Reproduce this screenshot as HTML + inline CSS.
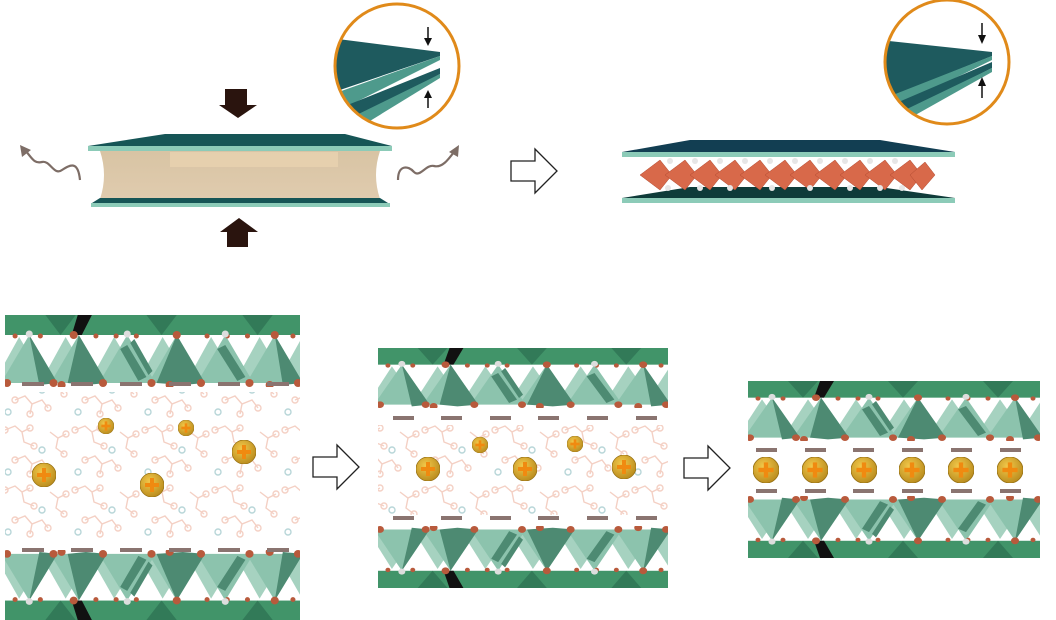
<!DOCTYPE html>
<html><head><meta charset="utf-8"><style>html,body{margin:0;padding:0;background:#fff}svg{display:block}</style></head>
<body>
<svg width="1056" height="620" viewBox="0 0 1056 620" xmlns="http://www.w3.org/2000/svg">
<defs>
<linearGradient id="beige" x1="0" y1="0" x2="0" y2="1"><stop offset="0" stop-color="#d8c4a4"/><stop offset="1" stop-color="#e0cbae"/></linearGradient>
<radialGradient id="cat" cx="0.4" cy="0.35" r="0.7"><stop offset="0" stop-color="#f2c84a"/><stop offset="1" stop-color="#b88a1c"/></radialGradient>
<pattern id="mol" width="70" height="60" patternUnits="userSpaceOnUse">
<g fill="none" stroke="#f4d0c4" stroke-width="1.4">
<path d="M5 10 L15 6 L22 12 L30 8 M22 12 L24 22 L34 26 M15 40 L25 36 L32 44 L42 40 L48 48 M32 44 L30 54 M50 12 L58 18 L66 14 M58 18 L56 28 L64 34"/>
<circle cx="5" cy="10" r="3"/><circle cx="30" cy="8" r="3"/><circle cx="34" cy="26" r="3"/><circle cx="15" cy="40" r="3"/><circle cx="48" cy="48" r="3"/><circle cx="30" cy="54" r="3"/><circle cx="66" cy="14" r="3"/><circle cx="64" cy="34" r="3"/>
</g>
<g fill="none" stroke="#b8d6d8" stroke-width="1.4"><circle cx="42" cy="30" r="3"/><circle cx="8" cy="52" r="3"/></g>
</pattern>
<symbol id="clay" viewBox="0 0 292 72" preserveAspectRatio="none">
<rect x="0" y="0" width="292" height="20" fill="#419469"/>
<g fill="#327a58"><polygon points="40,0 70,0 55,20"/><polygon points="140,0 170,0 155,20"/><polygon points="235,0 265,0 250,20"/></g>
<polygon points="72,0 86,0 76,20 66,20" fill="#111"/>
<g fill="#a6d2c0"><polygon points="-10,66 14,22 40,66"/><polygon points="36,66 60,22 86,66"/><polygon points="84,66 108,22 134,66"/><polygon points="132,66 156,22 182,66"/><polygon points="180,66 204,22 230,66"/><polygon points="228,66 252,22 278,66"/><polygon points="270,66 292,26 300,66"/></g>
<g fill="#8cc3ad">
<polygon points="-4,68 24,20 52,68"/><polygon points="45,68 73,20 101,68"/><polygon points="93,68 121,20 149,68"/><polygon points="142,68 170,20 198,68"/><polygon points="190,68 218,20 246,68"/><polygon points="239,68 267,20 295,68"/></g>
<g fill="#4d8a72"><polygon points="24,20 52,68 34,70"/><polygon points="73,20 101,68 80,70 62,68"/><polygon points="170,20 198,68 176,70 150,68"/><polygon points="267,20 295,68 275,70"/><polygon points="121,30 140,62 132,66 114,34"/><polygon points="218,30 238,62 230,66 210,34"/><polygon points="128,24 146,56 142,60 124,28"/></g>
<g fill="#b85a3c"><circle cx="2" cy="68" r="4"/><circle cx="48" cy="68" r="4"/><circle cx="56" cy="70" r="4"/><circle cx="97" cy="68" r="4"/><circle cx="145" cy="68" r="4"/><circle cx="163" cy="70" r="4"/><circle cx="194" cy="68" r="4"/><circle cx="242" cy="68" r="4"/><circle cx="262" cy="70" r="4"/><circle cx="290" cy="68" r="4"/>
<circle cx="68" cy="20" r="4"/><circle cx="170" cy="20" r="4"/><circle cx="267" cy="20" r="4"/>
<circle cx="10" cy="21" r="2.5"/><circle cx="35" cy="21" r="2.5"/><circle cx="90" cy="21" r="2.5"/><circle cx="110" cy="21" r="2.5"/><circle cx="130" cy="21" r="2.5"/><circle cx="200" cy="21" r="2.5"/><circle cx="220" cy="21" r="2.5"/><circle cx="240" cy="21" r="2.5"/><circle cx="285" cy="21" r="2.5"/></g>
<g fill="#ddd"><circle cx="24" cy="19" r="3.5"/><circle cx="121" cy="19" r="3.5"/><circle cx="218" cy="19" r="3.5"/></g>
</symbol>
<symbol id="plus" viewBox="-12 -12 24 24"><circle r="12" fill="url(#cat)" stroke="#9a7416" stroke-width="0.8"/><rect x="-7" y="-2" width="14" height="4" fill="#f08a10"/><rect x="-2" y="-7" width="4" height="14" fill="#f08a10"/></symbol>
<g id="hollow"><polygon points="0,-10 24,-10 24,-22 46,0 24,22 24,10 0,10" fill="#fff" stroke="#222" stroke-width="1.3"/></g>
<clipPath id="c1"><circle cx="397" cy="66" r="62"/></clipPath>
<clipPath id="c2"><circle cx="947" cy="62" r="62"/></clipPath>
</defs>

<polygon points="88,146 165,134 345,134 392,146" fill="#165556"/>
<rect x="88" y="146" width="304" height="5" fill="#8ccbb8"/>
<path d="M100,151 L380,151 Q372,175 380,199 L100,199 Q108,175 100,151 Z" fill="url(#beige)"/>
<rect x="170" y="152" width="168" height="15" fill="#e8d2b0" opacity="0.8"/>
<polygon points="92,203 100,198 380,198 388,203" fill="#165556"/>
<rect x="91" y="203" width="299" height="4" fill="#8ccbb8"/>
<polygon points="225,89 247,89 247,105 257,105 238,118 219,105 225,105" fill="#2a140e"/>
<polygon points="227,247 248,247 248,232 258,232 239,218 220,232 227,232" fill="#2a140e"/>
<path d="M80,180 C78,160 70,165 62,170 C54,176 50,160 42,162 C34,164 32,158 25,150" fill="none" stroke="#7d6d66" stroke-width="2.2"/>
<polygon points="20,145 31,150 22,157" fill="#7d6d66"/>
<path d="M398,180 C398,165 408,165 414,172 C420,178 426,164 434,166 C442,168 448,160 454,152" fill="none" stroke="#7d6d66" stroke-width="2.2"/>
<polygon points="459,145 458,157 449,152" fill="#7d6d66"/>
<g clip-path="url(#c1)">
<polygon points="330,38 440,52 440,56 340,90 330,95" fill="#1e5a5e"/>
<polygon points="440,56 440,60 350,105 330,110 330,95" fill="#4e9a8c"/>
<polygon points="440,68 440,74 360,118 330,128 330,112" fill="#1e5a5e"/>
<polygon points="440,74 440,78 365,124 330,132 330,128" fill="#4e9a8c"/>
</g>
<circle cx="397" cy="66" r="62" fill="none" stroke="#e08a1a" stroke-width="3"/>
<line x1="428" y1="27" x2="428" y2="40" stroke="#111" stroke-width="1.5"/><polygon points="424,38 432,38 428,46" fill="#111"/>
<line x1="428" y1="108" x2="428" y2="96" stroke="#111" stroke-width="1.5"/><polygon points="424,98 432,98 428,90" fill="#111"/>

<use href="#hollow" transform="translate(511,171)"/>

<polygon points="622,152 690,140 880,140 955,152" fill="#123e52"/>
<rect x="622" y="152" width="333" height="5" fill="#8ccbb8"/>
<polygon points="622,198 690,187 880,187 955,198" fill="#0f3c3a"/>
<rect x="622" y="198" width="333" height="5" fill="#8ccbb8"/>
<g fill="#d8694a" stroke="#b04a30" stroke-width="0.5">
<polygon points="640,175 660,160 672,175 660,190"/><polygon points="665,175 685,160 697,175 685,190"/><polygon points="690,175 710,160 722,175 710,190"/><polygon points="715,175 735,160 747,175 735,190"/><polygon points="740,175 760,160 772,175 760,190"/><polygon points="765,175 785,160 797,175 785,190"/><polygon points="790,175 810,160 822,175 810,190"/><polygon points="815,175 835,160 847,175 835,190"/><polygon points="840,175 860,160 872,175 860,190"/><polygon points="865,175 885,160 897,175 885,190"/><polygon points="890,175 910,160 922,175 910,190"/><polygon points="910,175 925,162 935,175 922,190"/>
</g>
<g fill="#e6e6e6"><circle cx="670" cy="161" r="3"/><circle cx="695" cy="161" r="3"/><circle cx="720" cy="161" r="3"/><circle cx="745" cy="161" r="3"/><circle cx="770" cy="161" r="3"/><circle cx="795" cy="161" r="3"/><circle cx="820" cy="161" r="3"/><circle cx="845" cy="161" r="3"/><circle cx="870" cy="161" r="3"/><circle cx="895" cy="161" r="3"/>
<circle cx="668" cy="188" r="3"/><circle cx="700" cy="188" r="3"/><circle cx="730" cy="188" r="3"/><circle cx="772" cy="188" r="3"/><circle cx="810" cy="188" r="3"/><circle cx="850" cy="188" r="3"/><circle cx="880" cy="188" r="3"/><circle cx="902" cy="188" r="3"/></g>
<g clip-path="url(#c2)">
<polygon points="880,40 992,52 992,56 895,95 880,100" fill="#1e5a5e"/>
<polygon points="992,56 992,60 900,105 880,110 880,100" fill="#4e9a8c"/>
<polygon points="992,62 992,68 905,112 880,122 880,110" fill="#1e5a5e"/>
<polygon points="992,68 992,72 910,118 880,128 880,122" fill="#4e9a8c"/>
</g>
<circle cx="947" cy="62" r="62" fill="none" stroke="#e08a1a" stroke-width="3"/>
<line x1="982" y1="23" x2="982" y2="37" stroke="#111" stroke-width="1.5"/><polygon points="978,35 986,35 982,44" fill="#111"/>
<line x1="982" y1="98" x2="982" y2="84" stroke="#111" stroke-width="1.5"/><polygon points="978,86 986,86 982,77" fill="#111"/>

<rect x="5" y="392" width="295" height="150" fill="url(#mol)"/>
<use href="#clay" x="5" y="315" width="295" height="72"/>
<use href="#clay" x="5" y="-620" width="295" height="70" transform="scale(1,-1)"/>
<g fill="#8a7470"><rect x="22" y="382" width="22" height="4"/><rect x="71" y="382" width="22" height="4"/><rect x="120" y="382" width="22" height="4"/><rect x="169" y="382" width="22" height="4"/><rect x="218" y="382" width="22" height="4"/><rect x="267" y="382" width="22" height="4"/>
<rect x="22" y="548" width="22" height="4"/><rect x="71" y="548" width="22" height="4"/><rect x="120" y="548" width="22" height="4"/><rect x="169" y="548" width="22" height="4"/><rect x="218" y="548" width="22" height="4"/><rect x="267" y="548" width="22" height="4"/></g>
<use href="#plus" x="98" y="418" width="16" height="16"/><use href="#plus" x="178" y="420" width="16" height="16"/>
<use href="#plus" x="232" y="440" width="24" height="24"/><use href="#plus" x="140" y="473" width="24" height="24"/><use href="#plus" x="32" y="463" width="24" height="24"/>

<use href="#hollow" transform="translate(313,467)"/>

<rect x="378" y="425" width="290" height="90" fill="url(#mol)"/>
<use href="#clay" x="378" y="348" width="290" height="60"/>
<use href="#clay" x="378" y="-588" width="290" height="62" transform="scale(1,-1)"/>
<g fill="#8a7470"><rect x="393" y="416" width="21" height="4"/><rect x="441" y="416" width="21" height="4"/><rect x="490" y="416" width="21" height="4"/><rect x="538" y="416" width="21" height="4"/><rect x="587" y="416" width="21" height="4"/><rect x="636" y="416" width="21" height="4"/>
<rect x="393" y="516" width="21" height="4"/><rect x="441" y="516" width="21" height="4"/><rect x="490" y="516" width="21" height="4"/><rect x="538" y="516" width="21" height="4"/><rect x="587" y="516" width="21" height="4"/><rect x="636" y="516" width="21" height="4"/></g>
<use href="#plus" x="416" y="457" width="24" height="24"/><use href="#plus" x="513" y="457" width="24" height="24"/><use href="#plus" x="612" y="455" width="24" height="24"/>
<use href="#plus" x="472" y="437" width="16" height="16"/><use href="#plus" x="567" y="436" width="16" height="16"/>

<use href="#hollow" transform="translate(684,468)"/>

<use href="#clay" x="748" y="381" width="292" height="60"/>
<use href="#clay" x="748" y="-558" width="292" height="62" transform="scale(1,-1)"/>
<g fill="#8a7470"><rect x="756" y="448" width="21" height="4"/><rect x="805" y="448" width="21" height="4"/><rect x="853" y="448" width="21" height="4"/><rect x="902" y="448" width="21" height="4"/><rect x="951" y="448" width="21" height="4"/><rect x="1000" y="448" width="21" height="4"/>
<rect x="756" y="489" width="21" height="4"/><rect x="805" y="489" width="21" height="4"/><rect x="853" y="489" width="21" height="4"/><rect x="902" y="489" width="21" height="4"/><rect x="951" y="489" width="21" height="4"/><rect x="1000" y="489" width="21" height="4"/></g>
<use href="#plus" x="753" y="457" width="26" height="26"/><use href="#plus" x="802" y="457" width="26" height="26"/><use href="#plus" x="851" y="457" width="26" height="26"/><use href="#plus" x="899" y="457" width="26" height="26"/><use href="#plus" x="948" y="457" width="26" height="26"/><use href="#plus" x="997" y="457" width="26" height="26"/>
</svg>
</body></html>
